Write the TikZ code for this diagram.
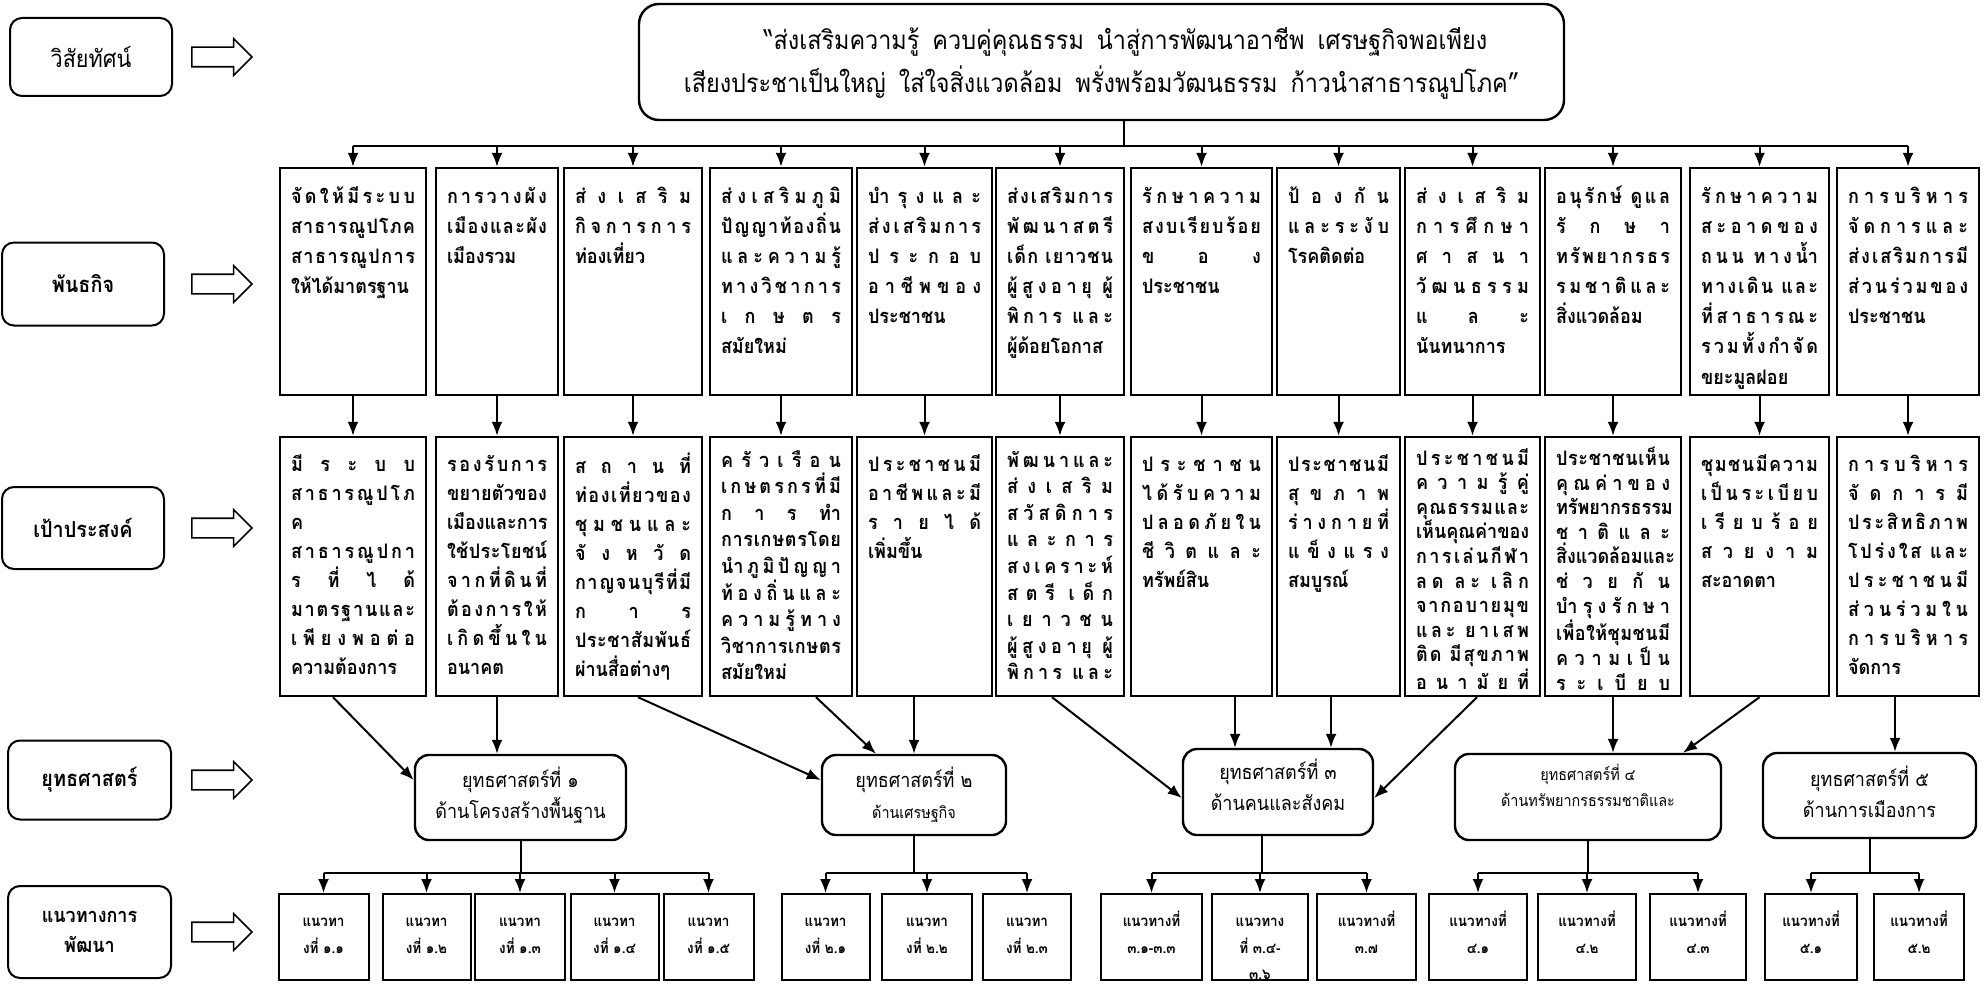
\documentclass[tikz,border=0pt]{standalone}
\usepackage{fontspec}
\usepackage{tikz}
\usetikzlibrary{arrows.meta,shapes.arrows}

\newfontfamily\thaifont[Script=Thai,FakeStretch=0.9]{Loma}
% text hung from the top of a box of fixed size (width, height in pt)
\newcommand{\gtop}{2pt}
\newcommand{\gbox}[3]{\parbox[t][\dimexpr#2pt-10pt\relax][t]{\dimexpr#1pt-11pt\relax}{\raggedright\vspace*{\gtop}\rule{0pt}{9pt}#3}}
\newcommand{\cbox}[3]{\parbox[t][\dimexpr#2pt-14pt\relax][t]{\dimexpr#1pt-4pt\relax}{\centering\strut#3}}
\newcommand{\stext}[4]{\parbox[t][\dimexpr#2pt-8pt\relax][t]{\dimexpr#1pt-8pt\relax}{\centering\rule{0pt}{#3pt}#4}}
% Thai distributed line: clusters spread over the whole width
\newcommand{\dl}[1]{\makebox[\linewidth][s]{\spaceskip=0pt plus 1fil\relax#1}}

\begin{document}
\begin{tikzpicture}
[->,>={Latex[length=7pt,width=5.5pt]},x=1pt,y=-1pt,line width=1pt]
  \tikzstyle{rowname}=[draw,rounded corners=6pt,minimum width=81pt,minimum height=40pt,align=center,font=\thaifont\bfseries\fontsize{11}{14}\selectfont]
  \tikzstyle{hollow}=[draw,fill=white,single arrow,single arrow head extend=4.25pt,minimum height=30pt,inner sep=4.5pt,line width=0.8pt]
  \tikzstyle{vision}=[draw,rounded corners=10pt,line width=1.2pt,inner sep=4pt,font=\thaifont\fontsize{13}{21.3}\selectfont]
  \tikzstyle{mission}=[draw,line width=1.2pt,inner xsep=5.5pt,inner ysep=5pt,font=\thaifont\bfseries\fontsize{10}{15}\selectfont,execute at begin node={\def\gtop{4pt}}]
  \tikzstyle{goal}=[mission,font=\thaifont\bfseries\fontsize{10}{14.5}\selectfont,execute at begin node={\def\gtop{3pt}}]
  \tikzstyle{goal9}=[mission,font=\thaifont\bfseries\fontsize{10}{13.3}\selectfont,execute at begin node={\def\gtop{1pt}}]
  \tikzstyle{goal10}=[mission,font=\thaifont\bfseries\fontsize{10}{12.3}\selectfont,execute at begin node={\def\gtop{0pt}}]
  \tikzstyle{strategy}=[draw,rounded corners=7pt,line width=1.2pt,inner sep=4pt,font=\thaifont\fontsize{10}{15.6}\selectfont]
  \tikzstyle{guide}=[draw,inner xsep=2pt,inner ysep=7pt,font=\thaifont\bfseries\fontsize{7.5}{13.3}\selectfont]

  \useasboundingbox (0,0) rectangle (992,492);

  % row names on the left
  \node[rowname,font=\thaifont\fontsize{12}{15}\selectfont,minimum height=39pt] (lvis) at (45.5,28.5) {วิสัยทัศน์};
  \node[rowname,minimum height=41.5pt] (lmis) at (41.5,142) {พันธกิจ};
  \node[rowname,minimum height=41pt] (lobj) at (41.5,264) {เป้าประสงค์};
  \node[rowname,minimum width=81.5pt,minimum height=39.5pt] (lstr) at (44.75,390) {ยุทธศาสตร์};
  \node[rowname,minimum width=81.5pt,minimum height=46pt,font=\thaifont\bfseries\fontsize{10}{15}\selectfont] (lgui) at (44.75,466) {แนวทางการ\\พัฒนา};
  \node[hollow] (avis) at (108.5,28.5) {};
  \node[hollow] (amis) at (108.5,142) {};
  \node[hollow] (aobj) at (108.5,264) {};
  \node[hollow] (astr) at (108.5,390) {};
  \node[hollow] (agui) at (108.5,466) {};

  % vision
  \node[vision] (vis) at (550.75,31) {\stext{462.5}{58}{19}{\hspace*{24pt}“ส่งเสริมความรู้\enspace ควบคู่คุณธรรม\enspace นำสู่การพัฒนาอาชีพ\enspace เศรษฐกิจพอเพียง\\เสียงประชาเป็นใหญ่\enspace ใส่ใจสิ่งแวดล้อม\enspace พรั่งพร้อมวัฒนธรรม\enspace ก้าวนำสาธารณูปโภค”}};

  % missions
  \node[mission] (m1) at (176.5,140.75) {\gbox{73}{113.5}{\dl{จั ด ใ ห้ มี ร ะ บ บ}\\\dl{ส า ธ า ร ณู ป โ ภ ค}\\\dl{ส า ธ า ร ณู ป ก า ร}\\ให้ได้มาตรฐาน}};
  \node[mission] (m2) at (248.5,140.75) {\gbox{61}{113.5}{\dl{ก า ร ว า ง ผั ง}\\\dl{เ มื อ ง แ ล ะ ผั ง}\\เมืองรวม}};
  \node[mission] (m3) at (316.5,140.75) {\gbox{69}{113.5}{\dl{ส่ ง เ ส ริ ม}\\\dl{กิ จ ก า ร ก า ร}\\ท่องเที่ยว}};
  \node[mission] (m4) at (390.5,140.75) {\gbox{71}{113.5}{\dl{ส่ ง เ ส ริ ม ภู มิ}\\\dl{ปั ญ ญ า ท้ อ ง ถิ่ น}\\\dl{แ ล ะ ค ว า ม รู้}\\\dl{ท า ง วิ ช า ก า ร}\\\dl{เ ก ษ ต ร}\\สมัยใหม่}};
  \node[mission] (m5) at (462.25,140.75) {\gbox{67.5}{113.5}{\dl{บำ รุ ง แ ล ะ}\\\dl{ส่ ง เ ส ริ ม ก า ร}\\\dl{ป ร ะ ก อ บ}\\\dl{อ า ชี พ ข อ ง}\\ประชาชน}};
  \node[mission] (m6) at (530,140.75) {\gbox{64}{113.5}{\dl{ส่ ง เ ส ริ ม ก า ร}\\\dl{พั ฒ น า ส ต รี}\\\dl{เ ด็ ก \kern3pt เ ย า ว ช น}\\\dl{ผู้ สู ง อ า ยุ \kern3pt ผู้}\\\dl{พิ ก า ร \kern3pt แ ล ะ}\\ผู้ด้อยโอกาส}};
  \node[mission] (m7) at (600.75,140.75) {\gbox{70.5}{113.5}{\dl{รั ก ษ า ค ว า ม}\\\dl{ส ง บ เ รี ย บ ร้ อ ย}\\\dl{ข อ ง}\\ประชาชน}};
  \node[mission] (m8) at (669.25,140.75) {\gbox{61.5}{113.5}{\dl{ป้ อ ง กั น}\\\dl{แ ล ะ ร ะ งั บ}\\โรคติดต่อ}};
  \node[mission] (m9) at (736.25,140.75) {\gbox{67.5}{113.5}{\dl{ส่ ง เ ส ริ ม}\\\dl{ก า ร ศึ ก ษ า}\\\dl{ศ า ส น า}\\\dl{วั ฒ น ธ ร ร ม}\\\dl{แ ล ะ}\\นันทนาการ}};
  \node[mission] (m10) at (806.5,140.75) {\gbox{68}{113.5}{\dl{อ นุ รั ก ษ์ \kern3pt ดู แ ล}\\\dl{รั ก ษ า}\\\dl{ท รั พ ย า ก ร ธ ร}\\\dl{ร ม ช า ติ แ ล ะ}\\สิ่งแวดล้อม}};
  \node[mission] (m11) at (879.75,140.75) {\gbox{69.5}{113.5}{\dl{รั ก ษ า ค ว า ม}\\\dl{ส ะ อ า ด ข อ ง}\\\dl{ถ น น \kern3pt ท า ง น้ำ}\\\dl{ท า ง เ ดิ น \kern3pt แ ล ะ}\\\dl{ที่ ส า ธ า ร ณ ะ}\\\dl{ร ว ม ทั้ ง กำ จั ด}\\ขยะมูลฝอย}};
  \node[mission] (m12) at (954,140.75) {\gbox{71}{113.5}{\dl{ก า ร บ ริ ห า ร}\\\dl{จั ด ก า ร แ ล ะ}\\\dl{ส่ ง เ ส ริ ม ก า ร มี}\\\dl{ส่ ว น ร่ ว ม ข อ ง}\\ประชาชน}};

  % goals
  \node[goal] (o1) at (176.5,283.25) {\gbox{73}{129.5}{\dl{มี ร ะ บ บ}\\\dl{ส า ธ า ร ณู ป โ ภ}\\ค\\\dl{ส า ธ า ร ณู ป ก า}\\\dl{ร ที่ ไ ด้}\\\dl{ม า ต ร ฐ า น แ ล ะ}\\\dl{เ พี ย ง พ อ ต่ อ}\\ความต้องการ}};
  \node[goal] (o2) at (248.5,283.25) {\gbox{61}{129.5}{\dl{ร อ ง รั บ ก า ร}\\\dl{ข ย า ย ตั ว ข อ ง}\\\dl{เ มื อ ง แ ล ะ ก า ร}\\\dl{ใ ช้ ป ร ะ โ ย ช น์}\\\dl{จ า ก ที่ ดิ น ที่}\\\dl{ต้ อ ง ก า ร ใ ห้}\\\dl{เ กิ ด ขึ้ น ใ น}\\อนาคต}};
  \node[goal] (o3) at (316.5,283.25) {\gbox{69}{129.5}{\dl{ส ถ า น ที่}\\\dl{ท่ อ ง เ ที่ ย ว ข อ ง}\\\dl{ชุ ม ช น แ ล ะ}\\\dl{จั ง ห วั ด}\\\dl{ก า ญ จ น บุ รี ที่ มี}\\\dl{ก า ร}\\\dl{ป ร ะ ช า สั ม พั น ธ์}\\ผ่านสื่อต่างๆ}};
  \node[goal9] (o4) at (390.5,283.25) {\gbox{71}{129.5}{\dl{ค รั ว เ รื อ น}\\\dl{เ ก ษ ต ร ก ร ที่ มี}\\\dl{ก า ร ทำ}\\\dl{ก า ร เ ก ษ ต ร โ ด ย}\\\dl{นำ ภู มิ ปั ญ ญ า}\\\dl{ท้ อ ง ถิ่ น แ ล ะ}\\\dl{ค ว า ม รู้ ท า ง}\\\dl{วิ ช า ก า ร เ ก ษ ต ร}\\สมัยใหม่}};
  \node[goal] (o5) at (462.25,283.25) {\gbox{67.5}{129.5}{\dl{ป ร ะ ช า ช น มี}\\\dl{อ า ชี พ แ ล ะ มี}\\\dl{ร า ย ไ ด้}\\เพิ่มขึ้น}};
  \node[goal9] (o6) at (530,283.25) {\gbox{64}{129.5}{\dl{พั ฒ น า แ ล ะ}\\\dl{ส่ ง เ ส ริ ม}\\\dl{ส วั ส ดิ ก า ร}\\\dl{แ ล ะ ก า ร}\\\dl{ส ง เ ค ร า ะ ห์}\\\dl{ส ต รี \kern3pt เ ด็ ก}\\\dl{เ ย า ว ช น}\\\dl{ผู้ สู ง อ า ยุ \kern3pt ผู้}\\\dl{พิ ก า ร \kern3pt แ ล ะ}}};
  \node[goal] (o7) at (600.75,283.25) {\gbox{70.5}{129.5}{\dl{ป ร ะ ช า ช น}\\\dl{ไ ด้ รั บ ค ว า ม}\\\dl{ป ล อ ด ภั ย ใ น}\\\dl{ชี วิ ต แ ล ะ}\\ทรัพย์สิน}};
  \node[goal] (o8) at (669.25,283.25) {\gbox{61.5}{129.5}{\dl{ป ร ะ ช า ช น มี}\\\dl{สุ ข ภ า พ}\\\dl{ร่ า ง ก า ย ที่}\\\dl{แ ข็ ง แ ร ง}\\สมบูรณ์}};
  \node[goal10] (o9) at (736.25,283.25) {\gbox{67.5}{129.5}{\dl{ป ร ะ ช า ช น มี}\\\dl{ค ว า ม รู้ คู่}\\\dl{คุ ณ ธ ร ร ม แ ล ะ}\\\dl{เ ห็ น คุ ณ ค่ า ข อ ง}\\\dl{ก า ร เ ล่ น กี ฬ า}\\\dl{ล ด \kern3pt ล ะ \kern3pt เ ลิ ก}\\\dl{จ า ก อ บ า ย มุ ข}\\\dl{แ ล ะ \kern3pt ย า เ ส พ}\\\dl{ติ ด \kern3pt มี สุ ข ภ า พ}\\\dl{อ น า มั ย ที่}}};
  \node[goal10] (o10) at (806.5,283.25) {\gbox{68}{129.5}{\dl{ป ร ะ ช า ช น เ ห็ น}\\\dl{คุ ณ ค่ า ข อ ง}\\\dl{ท รั พ ย า ก ร ธ ร ร ม}\\\dl{ช า ติ แ ล ะ}\\\dl{สิ่ ง แ ว ด ล้ อ ม แ ล ะ}\\\dl{ช่ ว ย กั น}\\\dl{บำ รุ ง รั ก ษ า}\\\dl{เ พื่ อ ใ ห้ ชุ ม ช น มี}\\\dl{ค ว า ม เ ป็ น}\\\dl{ร ะ เ บี ย บ}}};
  \node[goal] (o11) at (879.75,283.25) {\gbox{69.5}{129.5}{\dl{ชุ ม ช น มี ค ว า ม}\\\dl{เ ป็ น ร ะ เ บี ย บ}\\\dl{เ รี ย บ ร้ อ ย}\\\dl{ส ว ย ง า ม}\\สะอาดตา}};
  \node[goal] (o12) at (954,283.25) {\gbox{71}{129.5}{\dl{ก า ร บ ริ ห า ร}\\\dl{จั ด ก า ร มี}\\\dl{ป ร ะ สิ ท ธิ ภ า พ}\\\dl{โ ป ร่ ง ใ ส \kern3pt แ ล ะ}\\\dl{ป ร ะ ช า ช น มี}\\\dl{ส่ ว น ร่ ว ม ใ น}\\\dl{ก า ร บ ริ ห า ร}\\จัดการ}};

  % strategies
  \node[strategy] (s1) at (260.25,398.75) {\stext{105.5}{42.5}{12}{ยุทธศาสตร์ที่ ๑\\ด้านโครงสร้างพื้นฐาน}};
  \node[strategy] (s2) at (457,397.5) {\stext{92}{40}{12}{ยุทธศาสตร์ที่ ๒\\{\fontsize{8}{10}\selectfont ด้านเศรษฐกิจ}}};
  \node[strategy] (s3) at (639,396) {\stext{95}{43}{11}{ยุทธศาสตร์ที่ ๓\\ด้านคนและสังคม}};
  \node[strategy,font=\thaifont\fontsize{8}{13}\selectfont] (s4) at (794,398.5) {\stext{133}{43}{9}{ยุทธศาสตร์ที่ ๔\\ด้านทรัพยากรธรรมชาติและ}};
  \node[strategy] (s5) at (934.75,397.75) {\stext{106.5}{42.5}{12.5}{ยุทธศาสตร์ที่ ๕\\ด้านการเมืองการ}};

  % guidelines
  \node[guide] (g11) at (161.75,468.5) {\cbox{45}{43}{แนวทา\\งที่ ๑.๑}};
  \node[guide] (g12) at (213.25,468.5) {\cbox{44}{43}{แนวทา\\งที่ ๑.๒}};
  \node[guide] (g13) at (260,468.5) {\cbox{45}{43}{แนวทา\\งที่ ๑.๓}};
  \node[guide] (g14) at (307.25,468.5) {\cbox{44}{43}{แนวทา\\งที่ ๑.๔}};
  \node[guide] (g15) at (354.25,468.5) {\cbox{45}{43}{แนวทา\\งที่ ๑.๕}};
  \node[guide] (g21) at (412.75,468.5) {\cbox{44}{43}{แนวทา\\งที่ ๒.๑}};
  \node[guide] (g22) at (463.5,468.5) {\cbox{45}{43}{แนวทา\\งที่ ๒.๒}};
  \node[guide] (g23) at (513.5,468.5) {\cbox{44}{43}{แนวทา\\งที่ ๒.๓}};
  \node[guide] (g31) at (575.75,468.5) {\cbox{50.5}{43}{แนวทางที่\\๓.๑-๓.๓}};
  \node[guide] (g32) at (630,468.5) {\cbox{48}{43}{แนวทาง\\ที่ ๓.๔-\\๓.๖}};
  \node[guide] (g33) at (683.25,468.5) {\cbox{49.5}{43}{แนวทางที่\\๓.๗}};
  \node[guide] (g41) at (739,468.5) {\cbox{49}{43}{แนวทางที่\\๔.๑}};
  \node[guide] (g42) at (793.5,468.5) {\cbox{49}{43}{แนวทางที่\\๔.๒}};
  \node[guide] (g43) at (849,468.5) {\cbox{48}{43}{แนวทางที่\\๔.๓}};
  \node[guide] (g51) at (905.5,468.5) {\cbox{46}{43}{แนวทางที่\\๕.๑}};
  \node[guide] (g52) at (959.5,468.5) {\cbox{45}{43}{แนวทางที่\\๕.๒}};

  \coordinate (top) at (562,73);
  \coordinate (bus) at (0,436.5);

  % vision to missions
  \draw[-] (vis.south -| top) -- (top);
  \draw[-] (m1.north |- top) -- (m12.north |- top);
  \path (m1.north |- top) edge (m1.north)
        (m2.north |- top) edge (m2.north)
        (m3.north |- top) edge (m3.north)
        (m4.north |- top) edge (m4.north)
        (m5.north |- top) edge (m5.north)
        (m6.north |- top) edge (m6.north)
        (m7.north |- top) edge (m7.north)
        (m8.north |- top) edge (m8.north)
        (m9.north |- top) edge (m9.north)
        (m10.north |- top) edge (m10.north)
        (m11.north |- top) edge (m11.north)
        (m12.north |- top) edge (m12.north);

  % missions to goals
  \path (m1.south) edge (m1.south |- o1.north)
        (m2.south) edge (m2.south |- o2.north)
        (m3.south) edge (m3.south |- o3.north)
        (m4.south) edge (m4.south |- o4.north)
        (m5.south) edge (m5.south |- o5.north)
        (m6.south) edge (m6.south |- o6.north)
        (m7.south) edge (m7.south |- o7.north)
        (m8.south) edge (m8.south |- o8.north)
        (m9.south) edge (m9.south |- o9.north)
        (m10.south) edge (m10.south |- o10.north)
        (m11.south) edge (m11.south |- o11.north)
        (m12.south) edge (m12.south |- o12.north);

  % goals to strategies
  \path ([xshift=-10pt]o1.south) edge ([yshift=8.75pt]s1.west)
        (o2.south) edge (o2.south |- s1.north)
        ([xshift=2.5pt]o3.south) edge ([yshift=7.5pt]s2.west)
        ([xshift=17.5pt]o4.south) edge ([xshift=-19pt]s2.north)
        (s2.north |- o5.south) edge (s2.north)
        ([xshift=-4pt]o6.south) edge ([yshift=-3pt]s3.west)
        ([xshift=-21.5pt]s3.north |- o7.south) edge ([xshift=-21.5pt]s3.north)
        ([xshift=26.5pt]s3.north |- o8.south) edge ([xshift=26.5pt]s3.north)
        ([xshift=2.25pt]o9.south) edge ([yshift=-3pt]s3.east)
        (o10.south) edge (o10.south |- s4.north)
        (o11.south) edge ([xshift=47.5pt]s4.north)
        ([xshift=-6.5pt]o12.south) edge ([xshift=-6.5pt]o12.south |- s5.north);

  % strategies to guidelines
  \draw[-] (s1.south) -- (s1.south |- bus);
  \draw[-] (s2.south) -- (s2.south |- bus);
  \draw[-] ([xshift=-8pt]s3.south) -- ([xshift=-8pt]s3.south |- bus);
  \draw[-] (s4.south) -- (s4.south |- bus);
  \draw[-] (s5.south) -- (s5.south |- bus);
  \draw[-] (g11.north |- bus) -- (g15.north |- bus);
  \draw[-] (g21.north |- bus) -- (g23.north |- bus);
  \draw[-] (g31.north |- bus) -- (g33.north |- bus);
  \draw[-] (g41.north |- bus) -- (g43.north |- bus);
  \draw[-] (g51.north |- bus) -- (g52.north |- bus);
  \path (g11.north |- bus) edge (g11.north)
        (g12.north |- bus) edge (g12.north)
        (g13.north |- bus) edge (g13.north)
        (g14.north |- bus) edge (g14.north)
        (g15.north |- bus) edge (g15.north)
        (g21.north |- bus) edge (g21.north)
        (g22.north |- bus) edge (g22.north)
        (g23.north |- bus) edge (g23.north)
        (g31.north |- bus) edge (g31.north)
        (g32.north |- bus) edge (g32.north)
        (g33.north |- bus) edge (g33.north)
        (g41.north |- bus) edge (g41.north)
        (g42.north |- bus) edge (g42.north)
        (g43.north |- bus) edge (g43.north)
        (g51.north |- bus) edge (g51.north)
        (g52.north |- bus) edge (g52.north);
\end{tikzpicture}
\end{document}
